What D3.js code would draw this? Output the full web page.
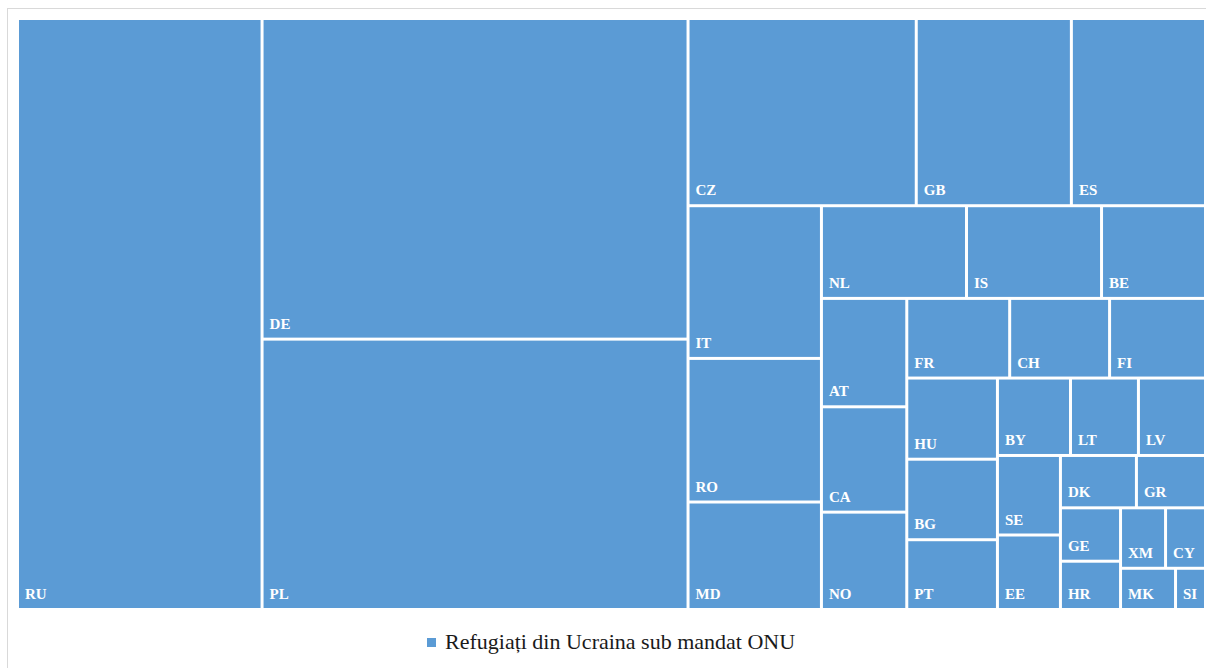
<!DOCTYPE html>
<html>
<head>
<meta charset="utf-8">
<script src="https://cdn.jsdelivr.net/npm/d3@7"></script>
<style>
  html, body { margin: 0; padding: 0; background: #fff; }
  svg { display: block; }
</style>
</head>
<body>
<svg id="chart"></svg>
<script>
const width = 1206;
const height = 668;

// countries (ISO codes as shown on the chart), sorted by value
const countries = ['RU', 'DE', 'PL', 'CZ', 'GB', 'ES', 'IT', 'RO', 'MD', 'NL', 'IS', 'BE',
  'AT', 'CA', 'NO', 'FR', 'CH', 'FI', 'HU', 'BG', 'PT', 'BY', 'LT', 'LV', 'SE', 'EE',
  'DK', 'GR', 'GE', 'HR', 'XM', 'CY', 'MK', 'SI'];

// refugees (thousands), estimated from the tile areas
const refugees = [1275.0, 1204.8, 1016.0, 376.9, 256.2, 221.5, 179.7, 169.0, 126.5, 118.6, 110.4, 85.0,
  81.6, 79.3, 73.3, 72.3, 70.2, 67.4, 64.9, 64.4, 55.8, 49.9, 46.4, 45.8, 44.2, 41.4,
  35.1, 31.9, 28.3, 25.6, 24.0, 21.3, 20.0, 10.9];

const seriesName = 'Refugiați din Ucraina sub mandat ONU';

const color = '#5B9BD5';
const font = "'Liberation Serif'";
const plot = {x0: 19, y0: 20, x1: 1204, y1: 608};

// how many tiles Excel packs in each strip
const stripSizes = [1, 2, 3, 3, 3, 3, 3, 3, 3, 2, 2, 2, 2, 2];

function excelTile(parent, x0, y0, x1, y1) {
  const nodes = parent.children;
  let value = parent.value;
  let i = 0;
  stripSizes.forEach(k => {
    if (i >= nodes.length) return;
    const row = {children: nodes.slice(i, i + k)};
    row.value = d3.sum(row.children, d => d.value);
    const dx = x1 - x0, dy = y1 - y0;
    if (i + k >= nodes.length) {
      if (dx >= dy) d3.treemapDice(row, x0, y0, x1, y1);
      else d3.treemapSlice(row, x0, y0, x1, y1);
    } else if (dx < dy) {
      d3.treemapDice(row, x0, y0, x1, y0 += dy * row.value / value);
    } else {
      d3.treemapSlice(row, x0, y0, x0 += dx * row.value / value, y1);
    }
    value -= row.value;
    i += k;
  });
}

const svg = d3.select('#chart')
  .attr('width', width)
  .attr('height', height);

// chart area border
svg.append('rect')
  .attr('x', 7.5)
  .attr('y', 8.5)
  .attr('width', width + 10)
  .attr('height', height + 10)
  .attr('fill', '#fff')
  .attr('stroke', '#d9d9d9');

const root = d3.hierarchy({children: countries.map((c, i) => ({name: c, value: refugees[i]}))})
  .sum(d => d.value || 0);

d3.treemap()
  .tile(excelTile)
  .size([plot.x1 - plot.x0, plot.y1 - plot.y0])
  .paddingInner(3)(root);

const cell = svg.append('g')
  .attr('transform', `translate(${plot.x0},${plot.y0})`)
  .selectAll('g')
  .data(root.leaves())
  .join('g');

cell.append('rect')
  .attr('x', d => d.x0)
  .attr('y', d => d.y0)
  .attr('width', d => d.x1 - d.x0)
  .attr('height', d => d.y1 - d.y0)
  .attr('fill', color);

cell.append('text')
  .attr('x', d => d.x0 + 6)
  .attr('y', d => d.y1 - 9)
  .attr('fill', '#fff')
  .style('font-family', font)
  .style('font-weight', 'bold')
  .style('font-size', '15px')
  .text(d => d.data.name);

// legend
const legend = svg.append('g').attr('transform', 'translate(427,638)');
legend.append('rect')
  .attr('width', 9)
  .attr('height', 9)
  .attr('fill', color);
legend.append('text')
  .attr('x', 18)
  .attr('y', 11)
  .attr('fill', '#1a1a1a')
  .style('font-family', font)
  .style('font-size', '22px')
  .text(seriesName);
</script>
</body>
</html>
